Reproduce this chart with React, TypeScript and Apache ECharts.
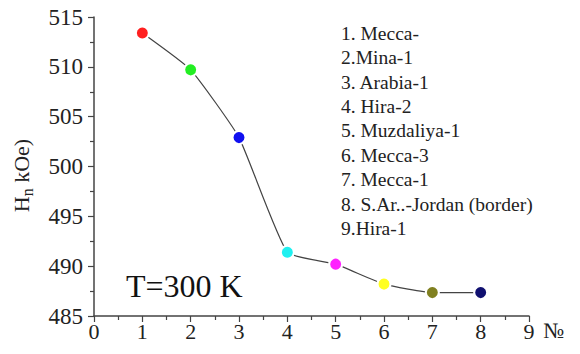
import React, { useEffect, useRef } from "react";
import * as echarts from "echarts";

const sampleNumbers = [1, 2, 3, 4, 5, 6, 7, 8];
const hnValues = [513.4, 509.7, 502.9, 491.4, 490.2, 488.2, 487.35, 487.35];
const pointColors = ["#ff2020", "#22ee22", "#1010f0", "#20f0f0", "#ff20ff", "#ffff20", "#808020", "#101070"];
const sampleNames = [
  "1. Mecca-",
  "2.Mina-1",
  "3. Arabia-1",
  "4. Hira-2",
  "5. Muzdaliya-1",
  "6. Mecca-3",
  "7. Mecca-1",
  "8. S.Ar..-Jordan (border)",
  "9.Hira-1",
];
const tempLabel = "T=300 K";

const FONT = "Liberation Serif";

export default function App() {
  const ref = useRef<HTMLDivElement>(null);
  useEffect(() => {
    if (!ref.current) return;
    const chart = echarts.init(ref.current, undefined, { renderer: "svg" });
    const axisCommon = {
      axisLine: { show: true, lineStyle: { color: "#444", width: 1.5 } },
      axisTick: { show: true, inside: false, length: 6, lineStyle: { color: "#444", width: 1.2 } },
      minorTick: { show: true, splitNumber: 2, length: 4, lineStyle: { color: "#444", width: 1.2 } },
      splitLine: { show: false },
    };
    chart.setOption({
      animation: false,
      backgroundColor: "#fff",
      grid: { left: 94, right: 51, top: 17, bottom: 38, containLabel: false },
      xAxis: {
        type: "value",
        min: 0,
        max: 9,
        interval: 1,
        ...axisCommon,
        axisLabel: { fontFamily: FONT, fontSize: 22, color: "#222", margin: 4 },
        name: "№",
        nameLocation: "end",
        nameGap: 14,
        nameTextStyle: { fontFamily: FONT, fontSize: 22, color: "#222", verticalAlign: "top", padding: [3, 0, 0, 0] },
      },
      yAxis: {
        type: "value",
        min: 485,
        max: 515,
        interval: 5,
        ...axisCommon,
        axisLabel: { fontFamily: FONT, fontSize: 23, color: "#222", margin: 11 },
        name: "{h|H}{n|n}{k| kOe)}",
        nameLocation: "middle",
        nameRotate: 90,
        nameGap: 62,
        nameTextStyle: {
          fontFamily: FONT,
          color: "#222",
          padding: [0, 18, 0, 0],
          rich: {
            h: { fontFamily: FONT, fontSize: 22, color: "#222", verticalAlign: "bottom", lineHeight: 26 },
            n: { fontFamily: FONT, fontSize: 16, color: "#222", verticalAlign: "bottom", lineHeight: 26, padding: [0, 0, -3, 0] },
            k: { fontFamily: FONT, fontSize: 22, color: "#222", verticalAlign: "bottom", lineHeight: 26 },
          },
        },
      },
      series: [
        {
          type: "line",
          data: sampleNumbers.map((x, i) => ({
            value: [x, hnValues[i]],
            itemStyle: { color: pointColors[i], borderColor: "#fff", borderWidth: 2 },
          })),
          smooth: 0.15,
          symbol: "circle",
          symbolSize: 13,
          lineStyle: { color: "#444", width: 1.2 },
          z: 3,
        },
      ],
      graphic: [
        {
          type: "text",
          left: 341,
          top: 21,
          style: {
            text: sampleNames.join("\n"),
            fontFamily: FONT,
            fontSize: 19.5,
            lineHeight: 24.4,
            fill: "#222",
          },
        },
        {
          type: "text",
          left: 126,
          top: 270,
          style: {
            text: tempLabel,
            fontFamily: FONT,
            fontSize: 32,
            fill: "#111",
          },
        },
      ],
    });
    return () => chart.dispose();
  }, []);
  return <div ref={ref} style={{ width: 580, height: 354, position: "absolute", left: 0, top: 0 }} />;
}
